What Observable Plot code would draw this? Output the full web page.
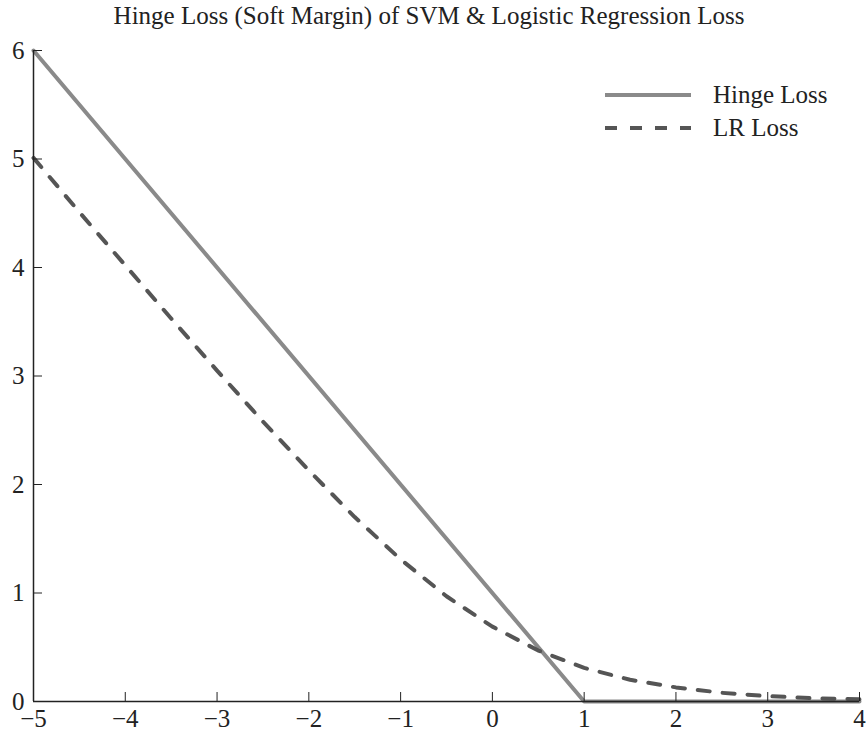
<!DOCTYPE html>
<html>
<head>
<meta charset="utf-8">
<script src="https://cdn.jsdelivr.net/npm/d3@7"></script>
<script src="https://cdn.jsdelivr.net/npm/@observablehq/plot@0.6"></script>
<style>
  html, body { margin: 0; padding: 0; background: #fff; }
  #wrap { position: relative; width: 866px; height: 734px; font-family: "Liberation Serif", "DejaVu Serif", serif; color: #222; }
  #title { position: absolute; left: 0; top: 1px; width: 858px; text-align: center; font-size: 25px; line-height: 30px; }
  #chart { position: absolute; left: 0; top: 34px; }
  #chart svg text { font-family: "Liberation Serif", serif; font-size: 25px; fill: #222; }
  #legend { position: absolute; left: 603px; top: 78px; font-size: 25px; }
  .row { display: flex; align-items: center; height: 33px; }
  .row svg { margin-right: 20px; }
</style>
</head>
<body>
<div id="wrap">
  <div id="title">Hinge Loss (Soft Margin) of SVM &amp; Logistic Regression Loss</div>
  <div id="chart"></div>
  <div id="legend">
    <div class="row"><svg width="90" height="10"><line x1="2" y1="5" x2="88" y2="5" stroke="#8a8a8a" stroke-width="4"/></svg>Hinge Loss</div>
    <div class="row"><svg width="90" height="10"><line x1="2" y1="5" x2="88" y2="5" stroke="#555" stroke-width="4" stroke-dasharray="12,13"/></svg>LR Loss</div>
  </div>
</div>
<script>
const hingeX = [-5, 1, 4];
const hingeY = [6, 0, 0];
const lrX = [-5, -4.5, -4, -3.5, -3, -2.5, -2, -1.5, -1, -0.5, 0, 0.5, 1, 1.5, 2, 2.5, 3, 3.5, 4];
const lrY = [5.01, 4.51, 4.02, 3.53, 3.05, 2.58, 2.13, 1.70, 1.31, 0.97, 0.69, 0.47, 0.31, 0.20, 0.13, 0.08, 0.05, 0.03, 0.02];
const xTicks = [-5, -4, -3, -2, -1, 0, 1, 2, 3, 4];
const yTicks = [0, 1, 2, 3, 4, 5, 6];

const hinge = hingeX.map((x, i) => ({x, y: hingeY[i]}));
const lr = lrX.map((x, i) => ({x, y: lrY[i]}));

const chart = Plot.plot({
  width: 866,
  height: 700,
  marginLeft: 33,
  marginRight: 7,
  marginTop: 16,
  marginBottom: 33,
  x: {domain: [-5, 4]},
  y: {domain: [0, 6]},
  style: {fontFamily: "Liberation Serif, serif", fontSize: "25px", color: "#222", background: "#fff", overflow: "visible"},
  marks: [
    Plot.line(hinge, {x: "x", y: "y", stroke: "#8a8a8a", strokeWidth: 4}),
    Plot.line(lr, {x: "x", y: "y", stroke: "#555", strokeWidth: 4, strokeDasharray: "12,13"}),
    Plot.ruleY([0], {stroke: "#222", strokeWidth: 1.5}),
    Plot.ruleX([-5], {stroke: "#222", strokeWidth: 1.5}),
    Plot.ruleX(xTicks.slice(1), {x: d => d, y1: 0, y2: 0, insetTop: -9, stroke: "#222", strokeWidth: 1}),
    Plot.ruleY(yTicks.slice(1), {y: d => d, x1: -5, x2: -5, insetRight: -9, stroke: "#222", strokeWidth: 1}),
    Plot.axisX(xTicks, {tickSize: 0, tickPadding: 8, label: null, tickFormat: d => d < 0 ? "\u2212" + Math.abs(d) : String(d)}),
    Plot.axisY(yTicks, {tickSize: 0, tickPadding: 9, label: null, tickFormat: d => String(d)})
  ]
});
document.getElementById("chart").appendChild(chart);
</script>
</body>
</html>
